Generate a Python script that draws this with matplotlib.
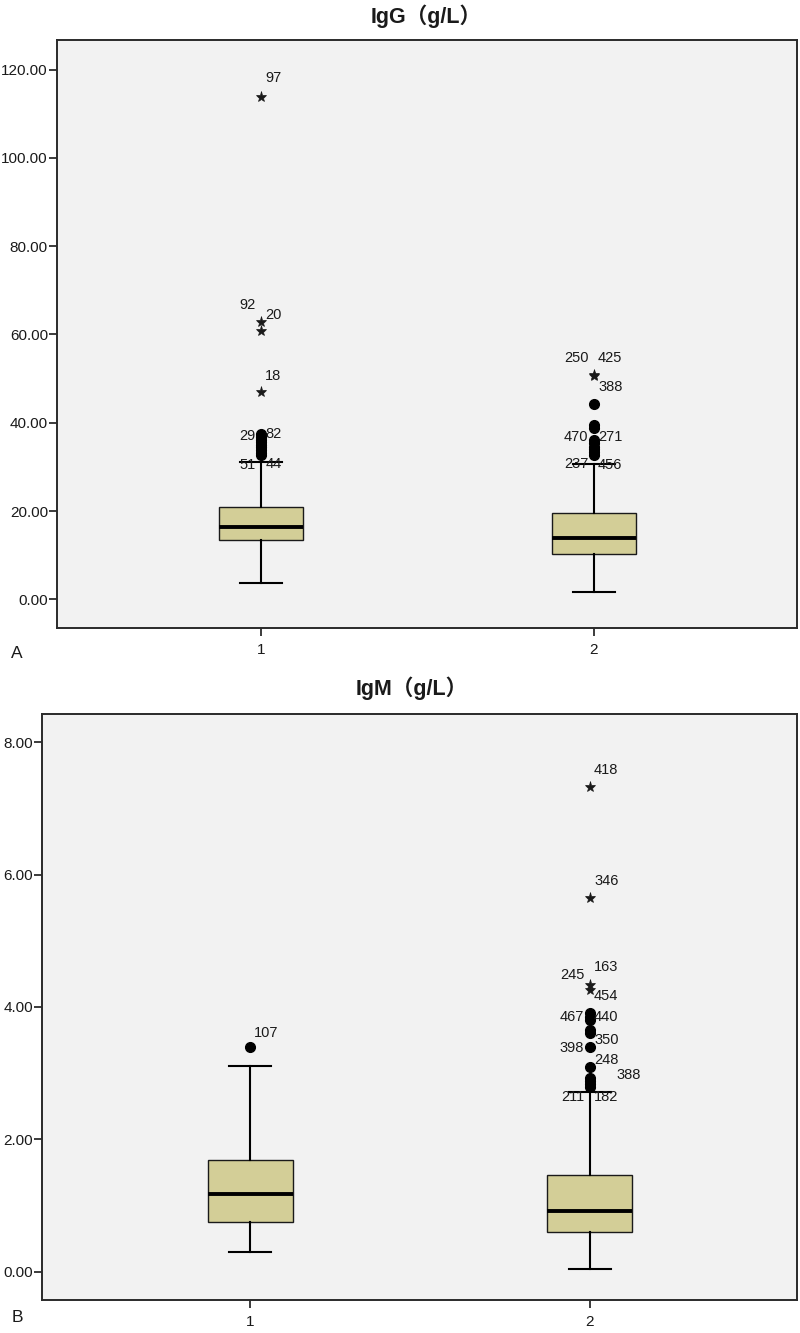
import matplotlib
matplotlib.use("Agg")
import matplotlib.pyplot as plt

plt.rcParams['font.family'] = ['Liberation Sans', 'Noto Sans CJK SC', 'DejaVu Sans']

# Group positions / names
groups = [1, 2]
group_labels = ['1', '2']

# ---- IgG (panel A) ----
igg_q1 = [13.5, 10.3]
igg_med = [16.4, 13.8]
igg_q3 = [21.0, 19.5]
igg_lo = [3.8, 1.75]
igg_hi = [31.2, 30.6]
igg_circles = [
    [37.4, 36.8, 36.2, 35.6, 35.0, 34.4, 33.8, 33.2, 32.8],
    [44.3, 39.5, 38.8, 36.0, 35.3, 34.6, 34.0, 33.4, 32.8],
]
igg_stars = [
    [113.9, 62.9, 60.7, 47.0],
    [50.9, 50.6],
]
# (group index, text, y value of label, side)
igg_labels = [
    (0, '97', 118.0, 'r'), (0, '92', 66.6, 'l'), (0, '20', 64.3, 'r'),
    (0, '18', 50.5, 'r'), (0, '29', 37.0, 'l'), (0, '82', 37.5, 'r'),
    (0, '51', 30.5, 'l'), (0, '44', 30.7, 'r'),
    (1, '250', 54.7, 'l'), (1, '425', 54.7, 'r'), (1, '388', 48.1, 'r'),
    (1, '470', 36.8, 'l'), (1, '271', 36.8, 'r'),
    (1, '237', 30.7, 'l'), (1, '456', 30.4, 'r'),
]
igg_ticks = [0, 20, 40, 60, 80, 100, 120]

# ---- IgM (panel B) ----
igm_q1 = [0.75, 0.60]
igm_med = [1.18, 0.92]
igm_q3 = [1.69, 1.46]
igm_lo = [0.29, 0.04]
igm_hi = [3.11, 2.72]
igm_circles = [
    [3.39],
    [3.91, 3.85, 3.80, 3.65, 3.60, 3.40, 3.09, 2.93, 2.88, 2.83, 2.79],
]
igm_stars = [
    [],
    [7.33, 5.65, 4.33, 4.26],
]
igm_labels = [
    (0, '107', 3.61, 'r'),
    (1, '418', 7.58, 'r'), (1, '346', 5.90, 'r'), (1, '163', 4.60, 'r'),
    (1, '245', 4.49, 'l'), (1, '454', 4.16, 'r'), (1, '467', 3.85, 'l'),
    (1, '440', 3.85, 'r'), (1, '398', 3.38, 'l'), (1, '350', 3.50, 'r'),
    (1, '248', 3.20, 'r'), (1, '388', 2.97, 'rr'),
    (1, '211', 2.64, 'l'), (1, '182', 2.64, 'r'),
]
igm_ticks = [0, 2, 4, 6, 8]

BOX = '#d3ce97'
BG = '#f2f2f2'
INK = '#1a1a1a'


def draw_panel(ax, q1, med, q3, lo, hi, circles, stars, labels, ticks, ylim):
    stats = []
    for i in range(len(groups)):
        stats.append(dict(q1=q1[i], med=med[i], q3=q3[i],
                          whislo=lo[i], whishi=hi[i], fliers=[]))
    ax.bxp(stats, positions=groups, widths=0.25, patch_artist=True,
           showfliers=False, capwidths=0.125,
           boxprops=dict(facecolor=BOX, edgecolor=INK, linewidth=1.0),
           medianprops=dict(color='black', linewidth=2.8),
           whiskerprops=dict(color='black', linewidth=1.5),
           capprops=dict(color='black', linewidth=1.5))
    for i, g in enumerate(groups):
        if circles[i]:
            ax.plot([g] * len(circles[i]), circles[i], 'o', color='black',
                    ms=7, zorder=4)
        if stars[i]:
            ax.plot([g] * len(stars[i]), stars[i], '*', color=INK,
                    ms=8, mew=0.5, zorder=4)
    for gi, txt, yv, side in labels:
        if side == 'l':
            off, ha = -4, 'right'
        elif side == 'r':
            off, ha = 3, 'left'
        else:
            off, ha = 19, 'left'
        ax.annotate(txt, xy=(groups[gi], yv), xytext=(off, 0),
                    textcoords='offset points', ha=ha, va='center',
                    fontsize=10.5, color=INK, zorder=5)
    ax.set_facecolor(BG)
    ax.set_xlim(0.387, 2.61)
    ax.set_ylim(*ylim)
    ax.set_yticks(ticks)
    ax.set_yticklabels(['%.2f' % t for t in ticks])
    ax.set_xticks(groups)
    ax.set_xticklabels(group_labels)
    ax.tick_params(axis='both', direction='out', length=6, width=1.2,
                   colors=INK, labelsize=11, pad=0.5)
    ax.tick_params(axis='x', pad=5)
    for s in ax.spines.values():
        s.set_linewidth(1.4)
        s.set_color('#2a2a2a')


fig = plt.figure(figsize=(8, 13.33), dpi=100)
fig.patch.set_facecolor('white')

axA = fig.add_axes([57 / 800, 705 / 1333, 740 / 800, 588 / 1333])
draw_panel(axA, igg_q1, igg_med, igg_q3, igg_lo, igg_hi, igg_circles,
           igg_stars, igg_labels, igg_ticks, (-6.5, 126.7))

axB = fig.add_axes([42 / 800, 33 / 1333, 755 / 800, 586 / 1333])
draw_panel(axB, igm_q1, igm_med, igm_q3, igm_lo, igm_hi, igm_circles,
           igm_stars, igm_labels, igm_ticks, (-0.43, 8.43))

fig.text(426 / 800, 1 - 16 / 1333, 'IgG（g/L）', ha='center', va='center',
         fontsize=15.5, fontweight='bold', color=INK)
fig.text(412 / 800, 1 - 688 / 1333, 'IgM（g/L）', ha='center', va='center',
         fontsize=15.5, fontweight='bold', color=INK)
fig.text(17 / 800, 1 - 653 / 1333, 'A', ha='center', va='center',
         fontsize=12.5, color=INK)
fig.text(17 / 800, 1 - 1317 / 1333, 'B', ha='center', va='center',
         fontsize=12.5, color=INK)

fig.savefig('out.png', dpi=100, facecolor='white')
